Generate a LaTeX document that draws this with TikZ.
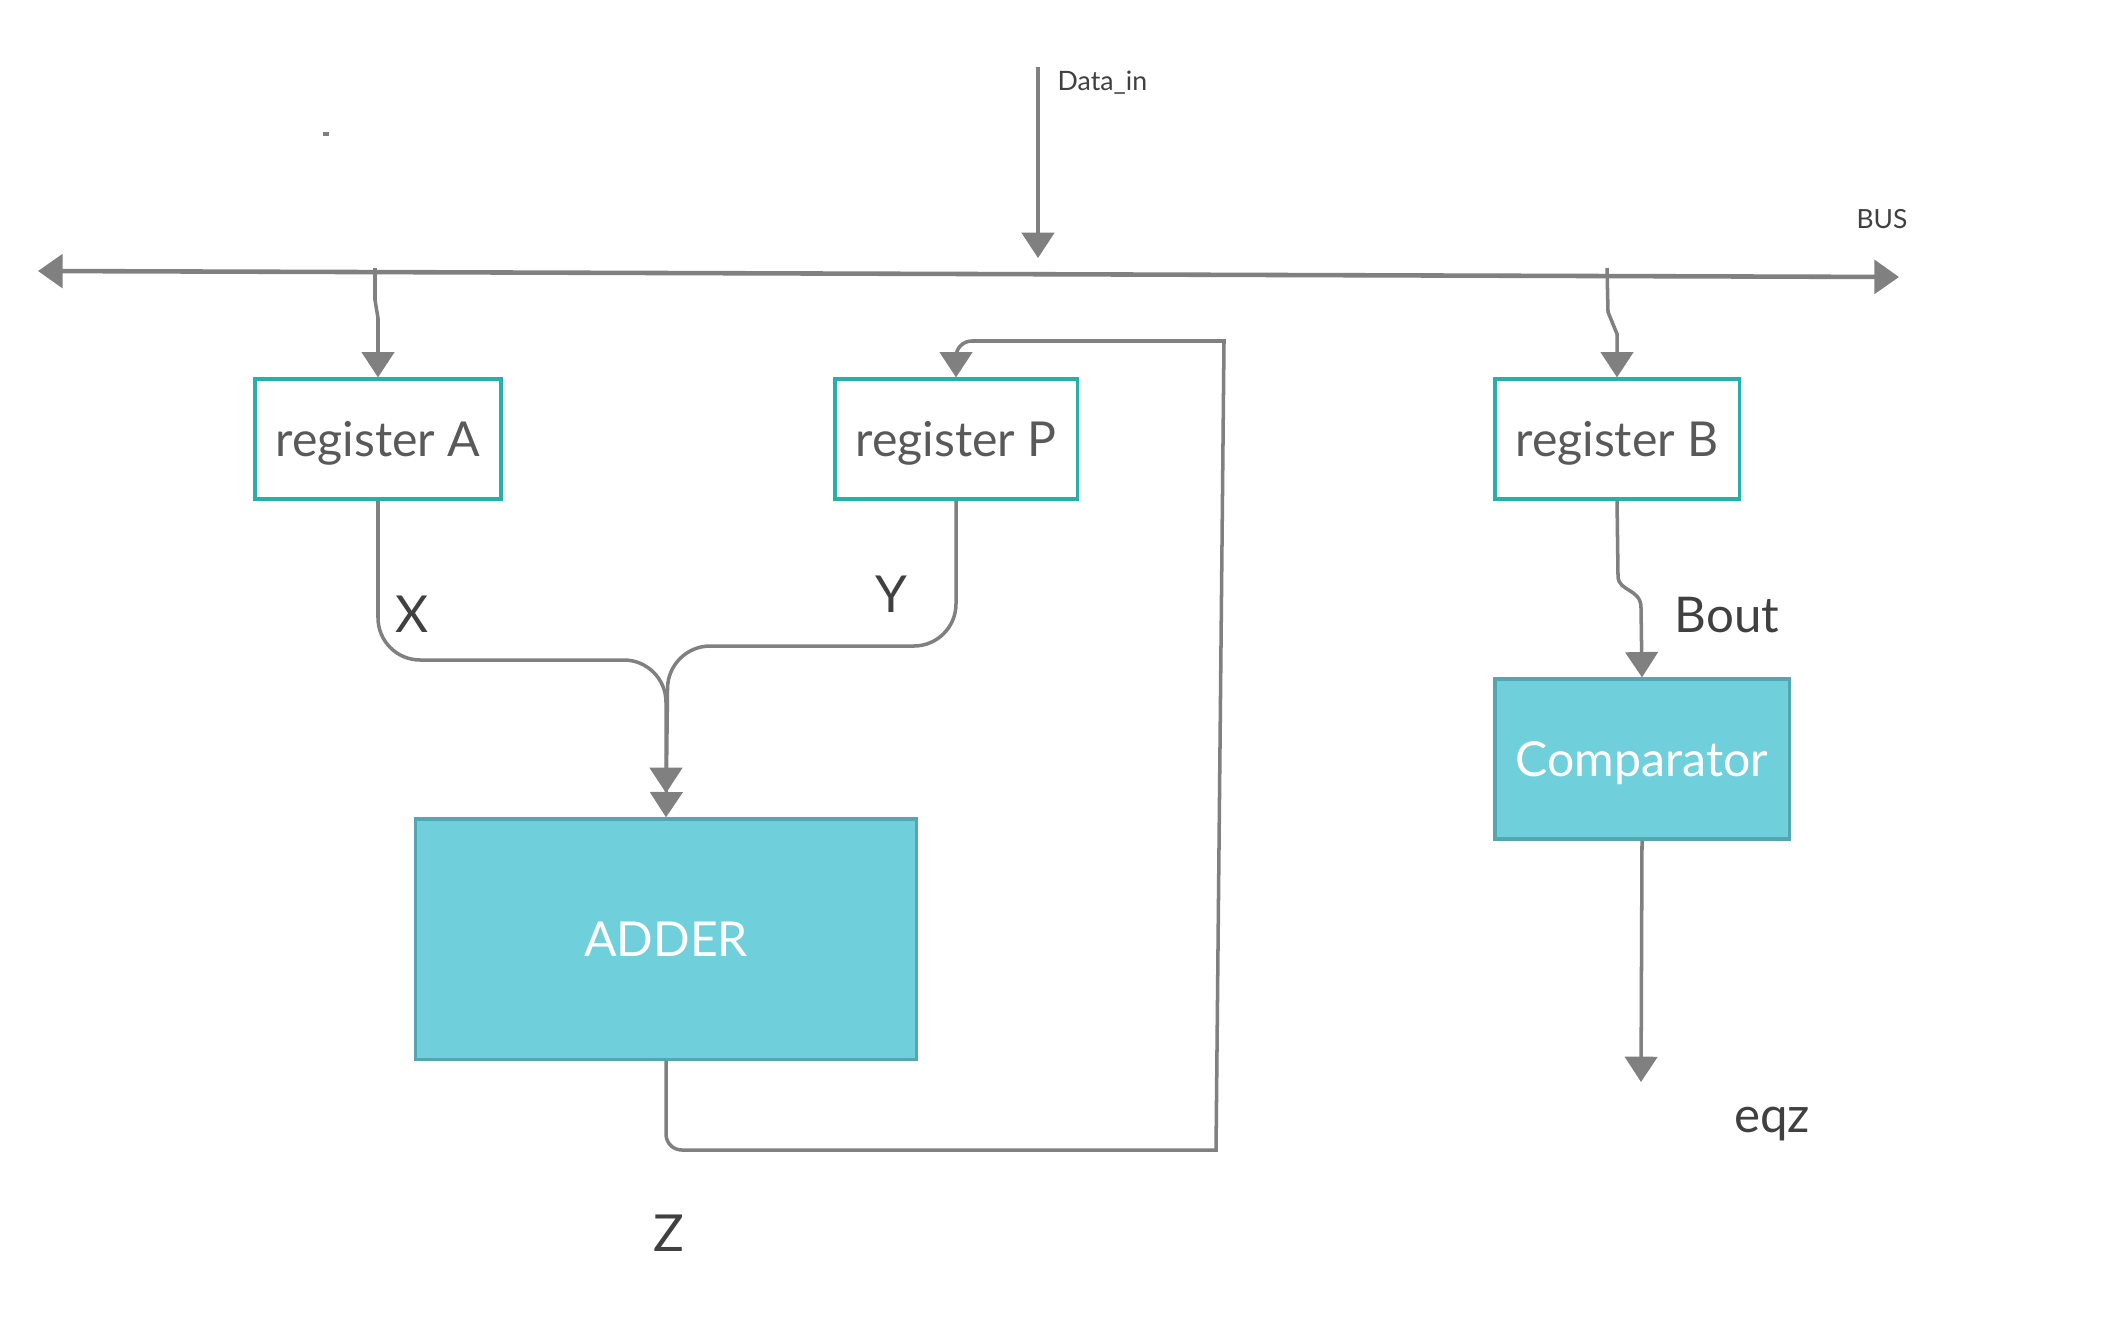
\documentclass[tikz,border=0pt]{standalone}
\usepackage{fontspec}
\setmainfont{Lato}
\usetikzlibrary{arrows.meta}
\definecolor{linegrey}{RGB}{128,128,128}
\definecolor{regborder}{RGB}{38,176,172}
\definecolor{blockfill}{RGB}{111,207,219}
\definecolor{blockborder}{RGB}{84,166,176}
\definecolor{regtext}{RGB}{89,89,89}
\definecolor{labtext}{RGB}{64,64,64}
\tikzset{
  regbox/.style={draw=regborder, line width=0.9pt, fill=white, minimum height=1.2cm, inner sep=0pt,
    text=regtext, font=\fontsize{13.7}{16}\selectfont, text height=1.0em, text depth=0pt},
  blockbox/.style={draw=blockborder, line width=0.9pt, fill=blockfill, inner sep=0pt,
    text=white, font=\fontsize{13.7}{16}\selectfont, text height=1.0em, text depth=0pt},
  wire/.style={draw=linegrey, line width=1pt},
  arr/.style={wire, -{Triangle[width=9.2pt,length=7.2pt]}},
  lab/.style={text=labtext, font=\fontsize{14.5}{17}\selectfont, inner sep=0pt},
  smalllab/.style={text=labtext, inner sep=0pt},
}
\begin{document}
\begin{tikzpicture}[x=0.01cm, y=-0.01cm]
\useasboundingbox (0,0) rectangle (2116,1327);
% nodes
\node[regbox, minimum width=2.46cm] (regA) at (378,439) {register A};
\node[regbox, minimum width=2.42cm] (regP) at (956,439) {register P};
\node[regbox, minimum width=2.44cm] (regB) at (1617,439) {register B};
\node[blockbox, minimum width=5.0cm, minimum height=2.4cm] (adder) at (666,939) {ADDER};
\node[blockbox, minimum width=2.94cm, minimum height=1.6cm] (comp) at (1642,759) {Comparator};
% coordinates
\coordinate (busL) at (38,271);
\coordinate (busR) at (1899,277);
\coordinate (dinTop) at (1038,67);
\coordinate (dinEnd) at (1038,258);
\coordinate (tapA) at (375,268);
\coordinate (tapB) at (1607,268);
\coordinate (xEnd) at (666,793);
\coordinate (eqzEnd) at (1641,1082);
% small mark
\fill[linegrey] (323,132) rectangle (329,136);
% bus
\draw[wire, line width=1.3pt, {Triangle[width=9.5pt,length=7pt]}-{Triangle[width=9.5pt,length=7pt]}] (busL) -- (busR);
\draw[arr] (dinTop) -- (dinEnd);
\node[smalllab, anchor=west, font=\fontsize{7.6}{9}\selectfont] (dinlab) at (1057,83) {Data\_in};
\node[smalllab, font=\fontsize{7.5}{9}\selectfont] (buslab) at (1882,219) {BUS};
% bus taps
\draw[arr] (tapA) -- (375,300) -- (378,318) -- (regA.north);
\draw[arr] (tapB) -- (1608,312) -- (1617,334) -- (regB.north);
% X and Y to adder
\draw[arr, rounded corners=12] (regA.south) |- (666,660) -- (xEnd);
\draw[arr, rounded corners=12] (regP.south) |- (668,646) -- (adder.north);
% feedback Z
\draw[arr] (adder.south) -- (666,1134) .. controls (666,1143) and (673,1150) .. (682,1150) -- (1216,1150)
  -- (1224,341) -- (972,341) .. controls (963,341) and (956,348) .. (956,357) -- (regP.north);
% comparator
\draw[arr] (regB.south) -- (1618,576) .. controls (1618,592) and (1641,588) .. (1641,608) -- (comp.north);
\draw[arr] (comp.south) -- (eqzEnd);
% labels
\node[lab] (xlab) at (412,614) {X};
\node[lab] (ylab) at (891,594) {Y};
\node[lab] (zlab) at (669,1233) {Z};
\node[lab, font=\fontsize{14}{17}\selectfont] (boutlab) at (1727,615) {Bout};
\node[lab, font=\fontsize{14}{17}\selectfont] (eqzlab) at (1772,1124) {eqz};
\end{tikzpicture}
\end{document}
